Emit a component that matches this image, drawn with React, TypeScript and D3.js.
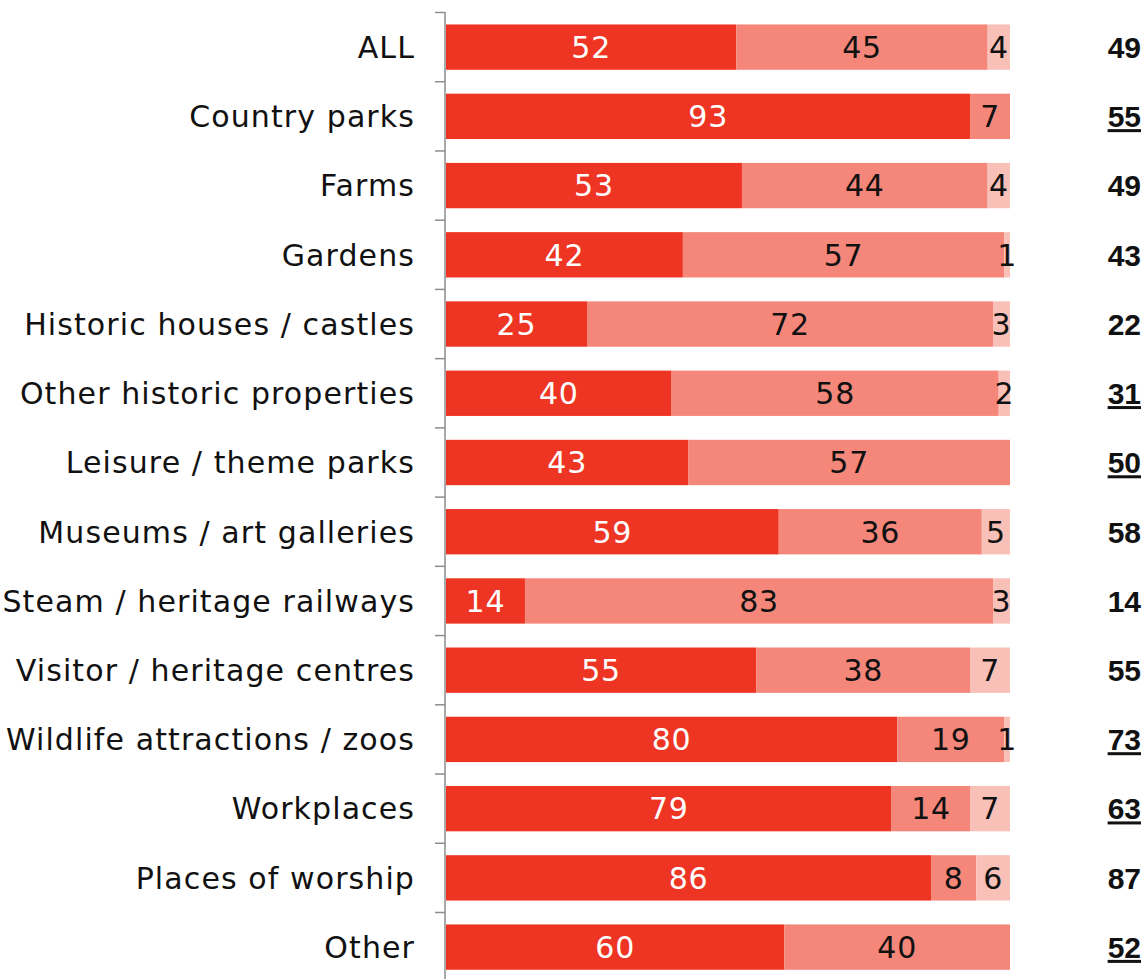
import React from "react";
import * as d3 from "d3";

const categories = [
  "ALL",
  "Country parks",
  "Farms",
  "Gardens",
  "Historic houses / castles",
  "Other historic properties",
  "Leisure / theme parks",
  "Museums / art galleries",
  "Steam / heritage railways",
  "Visitor / heritage centres",
  "Wildlife attractions / zoos",
  "Workplaces",
  "Places of worship",
  "Other",
];
const seriesA = [52, 93, 53, 42, 25, 40, 43, 59, 14, 55, 80, 79, 86, 60];
const seriesB = [45, 7, 44, 57, 72, 58, 57, 36, 83, 38, 19, 14, 8, 40];
const seriesC = [4, 0, 4, 1, 3, 2, 0, 5, 3, 7, 1, 7, 6, 0];
const baseValues = [49, 55, 49, 43, 22, 31, 50, 58, 14, 55, 73, 63, 87, 52];
const underlined = [false, true, false, false, false, true, true, false, false, false, true, true, false, true];

const keys = ["a", "b", "c"];
const colors = ["#EE3524", "#F4877A", "#F9C0B8"];
const textColors = ["#ffffff", "#111111", "#111111"];

export default function App() {
  const W = 1145, H = 979;
  const x0 = 446, x1 = 1010;
  const rows = categories.map((c, i) => ({ cat: c, a: seriesA[i], b: seriesB[i], c: seriesC[i] }));
  const stack = d3.stack<any>().keys(keys).offset(d3.stackOffsetExpand);
  const stacked = stack(rows);
  const x = d3.scaleLinear().domain([0, 1]).range([x0, x1]);
  const y = d3.scaleBand().domain(categories).range([12.5, 12.5 + 69.23 * categories.length]).paddingInner(0.345).paddingOuter(0.1725);
  const step = y.step();
  const bh = y.bandwidth();
  const fontLab = "'DejaVu Sans', Verdana, sans-serif";
  return (
    <svg width={W} height={H} style={{ position: "absolute", left: 0, top: 0, background: "#fff" }}>
      <line x1={445} x2={445} y1={12} y2={H} stroke="#8c8c8c" strokeWidth={1.5} />
      {categories.map((c, i) => {
        const ty = 12.5 + i * step;
        return <line key={"t" + i} x1={435} x2={445} y1={ty} y2={ty} stroke="#8c8c8c" strokeWidth={1.5} />;
      })}
      {stacked.map((s, si) =>
        s.map((d, i) => {
          const v = (rows[i] as any)[keys[si]];
          if (!v) return null;
          const xs = x(d[0]), xe = x(d[1]);
          const yy = y(categories[i])!;
          return (
            <g key={si + "-" + i}>
              <rect x={xs} y={yy} width={xe - xs} height={bh} fill={colors[si]} />
              <text x={(xs + xe) / 2} y={yy + bh / 2} dy="0.36em" textAnchor="middle" fontFamily={fontLab} fontSize={30} letterSpacing={0.8} fill={textColors[si]}>
                {v}
              </text>
            </g>
          );
        })
      )}
      {categories.map((c, i) => (
        <text key={"l" + i} x={415} y={y(c)! + bh / 2} dy="0.36em" textAnchor="end" fontFamily={fontLab} fontSize={30} letterSpacing={1.1} fill="#111">
          {c}
        </text>
      ))}
      {baseValues.map((v, i) => (
        <text key={"b" + i} x={1141} y={y(categories[i])! + bh / 2} dy="0.36em" textAnchor="end" fontFamily="'Liberation Sans', Arial, sans-serif" fontWeight="bold" fontSize={30} fill="#111" textDecoration={underlined[i] ? "underline" : undefined}>
          {v}
        </text>
      ))}
    </svg>
  );
}
